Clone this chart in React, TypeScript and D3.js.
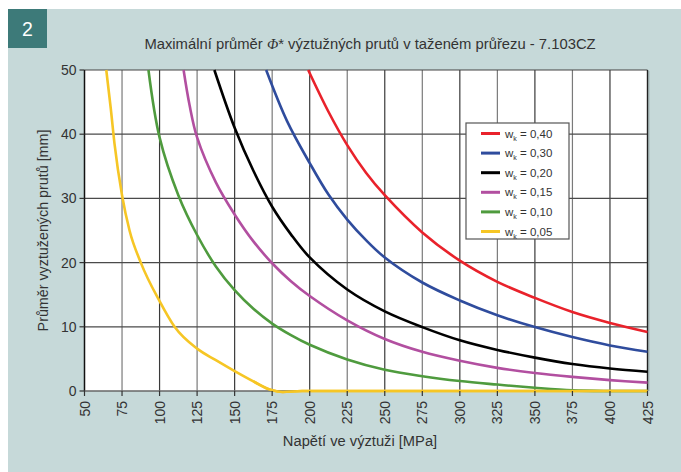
import React from "react";
import * as d3 from "d3";

const W = 681;
const H = 472;

const xTicks = [50, 75, 100, 125, 150, 175, 200, 225, 250, 275, 300, 325, 350, 375, 400, 425];
const yTicks = [0, 10, 20, 30, 40, 50];

const titleBefore = "Maximální průměr ";
const titleSymbol = "Φ";
const titleAfter = "* výztužných prutů v taženém průřezu - 7.103CZ";
const xTitle = "Napětí ve výztuži [MPa]";
const yTitle = "Průměr vyztužených prutů [mm]";
const badgeText = "2";

const seriesLabels = ["0,40", "0,30", "0,20", "0,15", "0,10", "0,05"];
const seriesColors = ["#e9222b", "#2f4c9d", "#000000", "#b24fa0", "#4f9b3e", "#f6c625"];

// stress [MPa] / max diameter [mm] per crack width
const stress040 = [199, 212.5, 225, 237.5, 250, 275, 300, 325, 350, 375, 400, 425];
const dia040 = [50, 43.5, 38.3, 34, 30.5, 24.7, 20.3, 17.0, 14.5, 12.3, 10.6, 9.2];

const stress030 = [171, 185, 200, 212.5, 225, 237.5, 250, 275, 300, 325, 350, 375, 400, 425];
const dia030 = [50, 42, 35.5, 30.6, 26.7, 23.5, 20.8, 16.9, 14.1, 11.8, 9.95, 8.4, 7.1, 6.1];

const stress020 = [136.5, 150, 162.5, 175, 187.5, 200, 225, 250, 275, 300, 325, 350, 375, 400, 425];
const dia020 = [50, 41, 34.3, 28.7, 24.4, 20.8, 15.8, 12.4, 9.95, 7.9, 6.4, 5.2, 4.2, 3.5, 3.0];

const stress015 = [116, 120, 125, 137.5, 150, 162.5, 175, 187.5, 200, 225, 250, 275, 300, 325, 350, 375, 400, 425];
const dia015 = [50, 44.5, 39.5, 32.5, 27.5, 23.3, 19.9, 17.1, 14.8, 11.0, 8.1, 6.1, 4.7, 3.6, 2.8, 2.2, 1.7, 1.3];

const stress010 = [92.6, 100, 112.5, 125, 137.5, 150, 162.5, 175, 187.5, 200, 225, 250, 275, 300, 325, 350, 375, 400, 425];
const dia010 = [50, 39.5, 30.5, 24.3, 19.4, 15.7, 12.8, 10.5, 8.7, 7.2, 4.9, 3.3, 2.3, 1.55, 1.0, 0.5, 0.1, 0, 0];

const stress005 = [64.5, 67.5, 70, 75, 80, 87.5, 100, 110, 125, 137.5, 150, 162.5, 175, 182, 195, 250, 300, 350, 425];
const dia005 = [50, 44, 38.5, 30.5, 25, 20, 14, 10, 6.6, 4.8, 3.1, 1.5, 0.1, -0.15, 0, 0, 0, 0, 0];

const seriesX = [stress040, stress030, stress020, stress015, stress010, stress005];
const seriesY = [dia040, dia030, dia020, dia015, dia010, dia005];

const FONT = "'Liberation Sans', Arial, Helvetica, sans-serif";

export default function App() {
  const left = 84.5;
  const right = 647.5;
  const top = 70;
  const bottom = 391;

  const x = d3.scaleLinear().domain([50, 425]).range([left, right]);
  const y = d3.scaleLinear().domain([0, 50]).range([bottom, top]);

  const smoothLine = d3
    .line<[number, number]>()
    .x((d) => x(d[0]))
    .y((d) => y(d[1]))
    .curve(d3.curveCatmullRom.alpha(0.5));
  const monoLine = d3
    .line<[number, number]>()
    .x((d) => x(d[0]))
    .y((d) => y(d[1]))
    .curve(d3.curveMonotoneX);

  const legendX = 466;
  const legendY = 123;
  const legendW = 103;
  const legendH = 116;

  const yellowPts: [number, number][] = stress005.map((v, j) => [v, dia005[j]]);

  return (
    <svg
      width={W}
      height={H}
      style={{ position: "fixed", left: 0, top: 0, background: "#ffffff" }}
      fontFamily={FONT}
    >
      <rect x={8} y={9} width={W - 8} height={H - 9} fill="#c6d9d9" />
      <rect x={8} y={9} width={39} height={39} fill="#3d7a79" />
      <text x={27.5} y={35.5} textAnchor="middle" fontSize={19.5} fill="#ffffff" fontWeight={500}>
        {badgeText}
      </text>

      <text x={370} y={49} textAnchor="middle" fontSize={14.8} fill="#333">
        {titleBefore}
        <tspan fontStyle="italic" fontFamily="'Liberation Serif', serif">{titleSymbol}</tspan>
        {titleAfter}
      </text>

      {/* plot area */}
      <rect x={left} y={top} width={right - left} height={bottom - top} fill="#ffffff" />

      {/* gridlines */}
      {xTicks.slice(1, -1).map((t, i) => (
        <line
          key={"gx" + t}
          x1={x(t)}
          x2={x(t)}
          y1={top}
          y2={bottom}
          stroke={i % 2 === 0 ? "#7a7a7a" : "#3a3a3a"}
          strokeWidth={1.2}
        />
      ))}
      {yTicks.slice(1, -1).map((t) => (
        <line key={"gy" + t} x1={left} x2={right} y1={y(t)} y2={y(t)} stroke="#4a4a4a" strokeWidth={1.2} />
      ))}

      {/* borders */}
      <line x1={left} x2={right} y1={top} y2={top} stroke="#444" strokeWidth={1.2} />
      <line x1={right} x2={right} y1={top} y2={bottom} stroke="#222" strokeWidth={1.4} />
      <line x1={right + 1.3} x2={right + 1.3} y1={top + 1} y2={bottom} stroke="#8a9a9a" strokeWidth={1} />

      {/* series */}
      {seriesX
        .map((xs, i) => {
          const pts: [number, number][] = xs.map((v, j) => [v, seriesY[i][j]]);
          const gen = i === 5 ? monoLine : smoothLine;
          return (
            <path
              key={"s" + i}
              d={gen(pts) || ""}
              fill="none"
              stroke={seriesColors[i]}
              strokeWidth={2.6}
              strokeLinejoin="round"
            />
          );
        })
        .reverse()}

      {/* axes */}
      <line x1={left} x2={left} y1={top} y2={bottom} stroke="#111" strokeWidth={1.5} />
      <line x1={left} x2={right} y1={bottom} y2={bottom} stroke="#666" strokeWidth={1.6} />
      {/* yellow on top of axis */}
      <path d={monoLine(yellowPts.slice(11)) || ""} fill="none" stroke={seriesColors[5]} strokeWidth={2.6} />

      {/* y ticks */}
      {yTicks.map((t) => (
        <g key={"yt" + t}>
          <line x1={left - 5} x2={left} y1={y(t)} y2={y(t)} stroke="#333" strokeWidth={1.2} />
          <text x={left - 8} y={y(t)} dy="0.36em" textAnchor="end" fontSize={14} fill="#333">
            {t}
          </text>
        </g>
      ))}

      {/* x ticks */}
      {xTicks.map((t) => (
        <g key={"xt" + t}>
          <line x1={x(t)} x2={x(t)} y1={bottom} y2={bottom + 5} stroke="#333" strokeWidth={1.2} />
          <text
            transform={`translate(${x(t)},${bottom + 10}) rotate(-90)`}
            dy="0.36em"
            textAnchor="end"
            fontSize={14}
            fill="#333"
          >
            {t}
          </text>
        </g>
      ))}

      <text x={360} y={446} textAnchor="middle" fontSize={14.7} fill="#333">
        {xTitle}
      </text>
      <text
        transform={`translate(43,${(top + bottom) / 2}) rotate(-90)`}
        textAnchor="middle"
        dy="0.36em"
        fontSize={14.3}
        fill="#333"
      >
        {yTitle}
      </text>

      {/* legend */}
      <rect x={legendX} y={legendY} width={legendW} height={legendH} fill="#ffffff" stroke="#555" strokeWidth={1.2} />
      {seriesLabels.map((lab, i) => {
        const ly = legendY + 10.5 + i * 19.6;
        return (
          <g key={"lg" + i}>
            <line x1={481} x2={500} y1={ly} y2={ly} stroke={seriesColors[i]} strokeWidth={3} />
            <text x={505} y={ly} dy="0.36em" fontSize={11.5} fill="#333">
              w
              <tspan fontSize={7} dy={3}>k</tspan>
              <tspan dy={-3}>{" = " + lab}</tspan>
            </text>
          </g>
        );
      })}
    </svg>
  );
}
